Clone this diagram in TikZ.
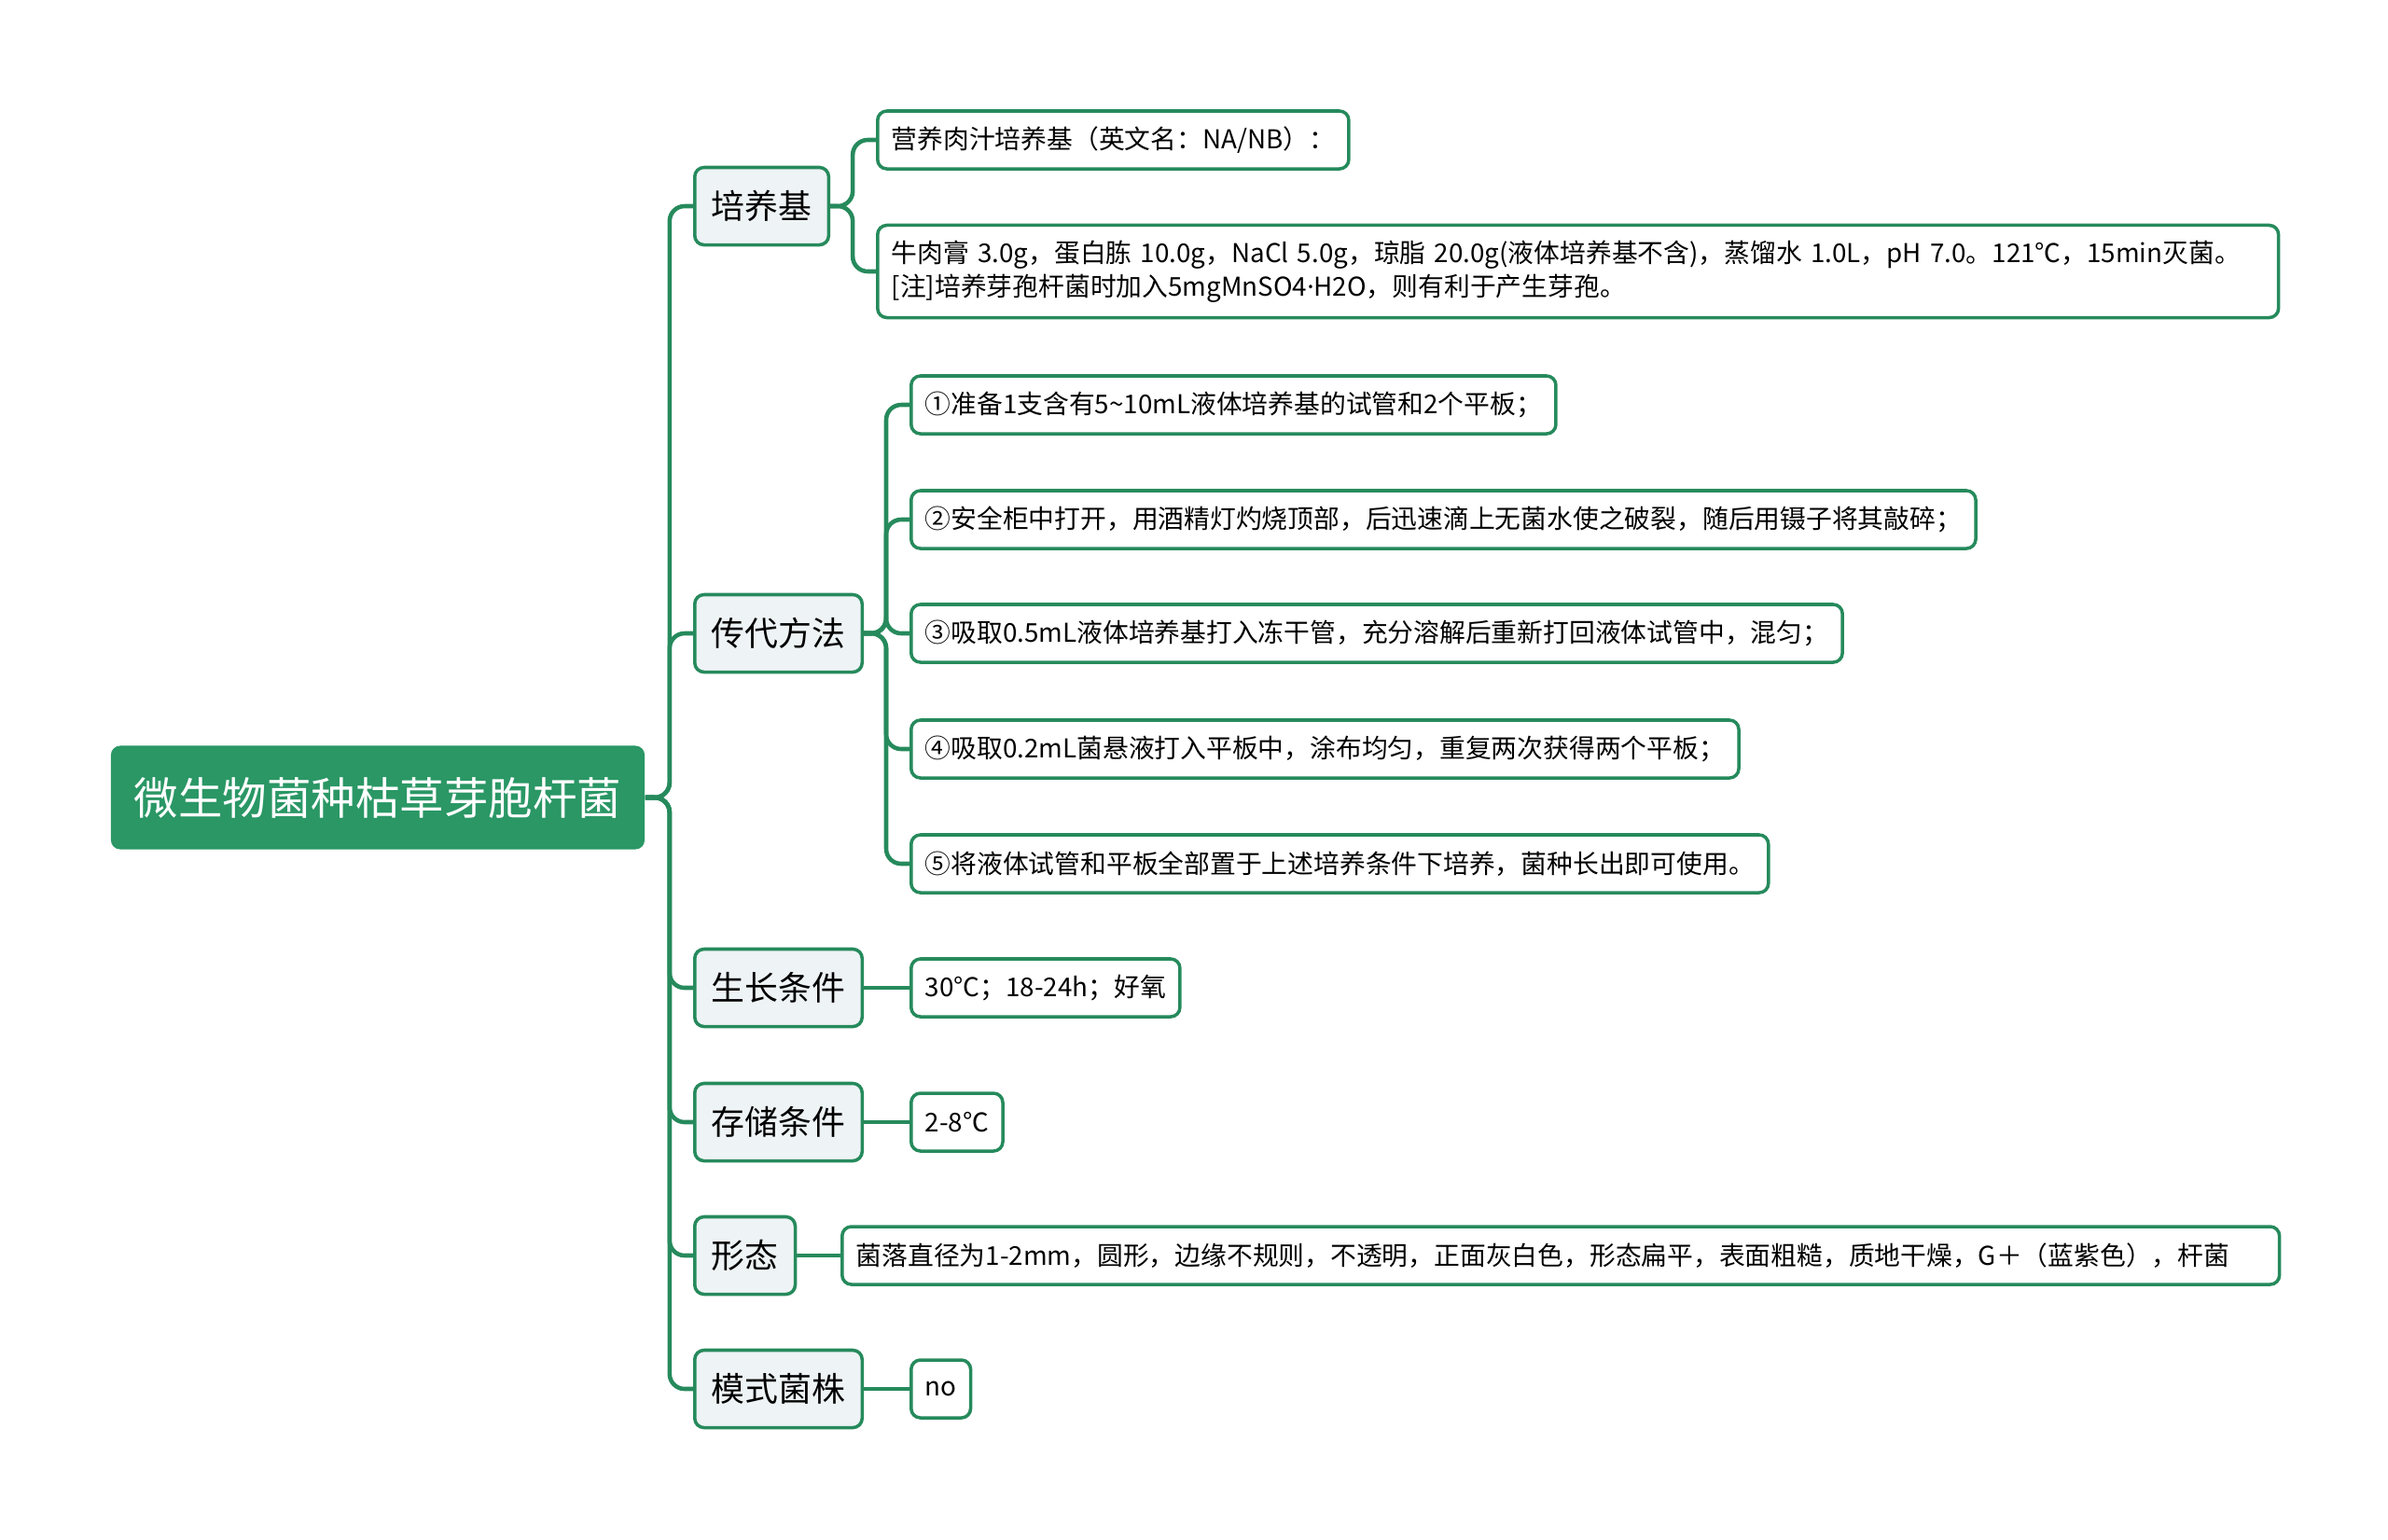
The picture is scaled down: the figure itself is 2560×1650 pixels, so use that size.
\documentclass[tikz,border=0pt]{standalone}
\usepackage{fontspec}
\setmainfont{Noto Sans CJK SC}
\newfontfamily\latinfont{Noto Sans}
\usepackage{tikz}
\usetikzlibrary{positioning}

\definecolor{rootgreen}{RGB}{42,151,101}
\definecolor{linegreen}{RGB}{38,138,92}
\definecolor{topicfill}{RGB}{238,243,245}

\begin{document}
\begin{tikzpicture}[x=0.01cm, y=-0.01cm,
  root/.style={rectangle, rounded corners=0.1cm, fill=rootgreen, text=white, minimum height=1.11cm, inner xsep=0.25cm, font=\fontsize{13.5}{16}\selectfont},
  topic/.style={rectangle, rounded corners=0.1cm, draw=linegreen, line width=1pt, fill=topicfill, minimum height=0.83cm, inner xsep=0.18cm, anchor=west, font=\fontsize{10.2}{12}\selectfont},
  leaf/.style={rectangle, rounded corners=0.1cm, draw=linegreen, line width=1pt, fill=white, minimum height=0.62cm, inner xsep=0.15cm, anchor=west, align=left, font=\fontsize{7.9}{10.2}\selectfont},
  n/.style={draw=linegreen, line width=1.3pt, rounded corners=0.16cm}]
                \useasboundingbox (0,0) rectangle (2560,1650);
                % nodes
                \node[root] (root) at (405,855) {微生物菌种枯草芽胞杆菌};
                \node[topic] (med) at (743,221) {培养基};
                \node[topic] (sub) at (743,679) {传代方法};
                \node[topic] (grow) at (743,1059) {生长条件};
                \node[topic] (store) at (743,1203) {存储条件};
                \node[topic] (shape) at (743,1346) {形态};
                \node[topic] (strain) at (743,1489) {模式菌株};
                \node[leaf] (med1) at (939,150) {营养肉汁培养基（英文名：NA/NB）：};
                \node[leaf, minimum height=0.99cm, text width=14.71cm] (med2) at (939,291) {牛肉膏 3.0g，蛋白胨 10.0g，NaCl 5.0g，琼脂 20.0g(液体培养基不含)，蒸馏水 1.0L，pH 7.0。121℃，15min灭菌。\\{[}注{]}培养芽孢杆菌时加入5mgMnSO4{\latinfont ·}H2O，则有利于产生芽孢。};
                \node[leaf] (sub1) at (975,434) {①准备1支含有5\textasciitilde 10mL液体培养基的试管和2个平板；};
                \node[leaf] (sub2) at (975,557) {②安全柜中打开，用酒精灯灼烧顶部，后迅速滴上无菌水使之破裂，随后用镊子将其敲碎；};
                \node[leaf] (sub3) at (975,679) {③吸取0.5mL液体培养基打入冻干管，充分溶解后重新打回液体试管中，混匀；};
                \node[leaf] (sub4) at (975,803) {④吸取0.2mL菌悬液打入平板中，涂布均匀，重复两次获得两个平板；};
                \node[leaf] (sub5) at (975,926) {⑤将液体试管和平板全部置于上述培养条件下培养，菌种长出即可使用。};
                \node[leaf] (grow1) at (975,1059) {30°C；18-24h；好氧};
                \node[leaf] (store1) at (975,1203) {2-8℃};
                \node[leaf, text width=15.1cm] (shape1) at (901,1346) {菌落直径为1-2mm，圆形，边缘不规则，不透明，正面灰白色，形态扁平，表面粗糙，质地干燥，G＋（蓝紫色），杆菌};
                \node[leaf] (strain1) at (975,1489) {no};
                % edges
                \foreach \t in {med, sub, grow, store, shape, strain}
                    \draw [n] (root.east) -- ++(26,0) |- (\t.west);
                \foreach \l in {med1, med2}
                    \draw [n] (med.east) -- ++(24,0) |- (\l.west);
                \foreach \l in {sub1, sub2, sub3, sub4, sub5}
                    \draw [n] (sub.east) -- ++(24,0) |- (\l.west);
                \draw [n] (grow) -- (grow1);
                \draw [n] (store) -- (store1);
                \draw [n] (shape) -- (shape1);
                \draw [n] (strain) -- (strain1);
\end{tikzpicture}
\end{document}
